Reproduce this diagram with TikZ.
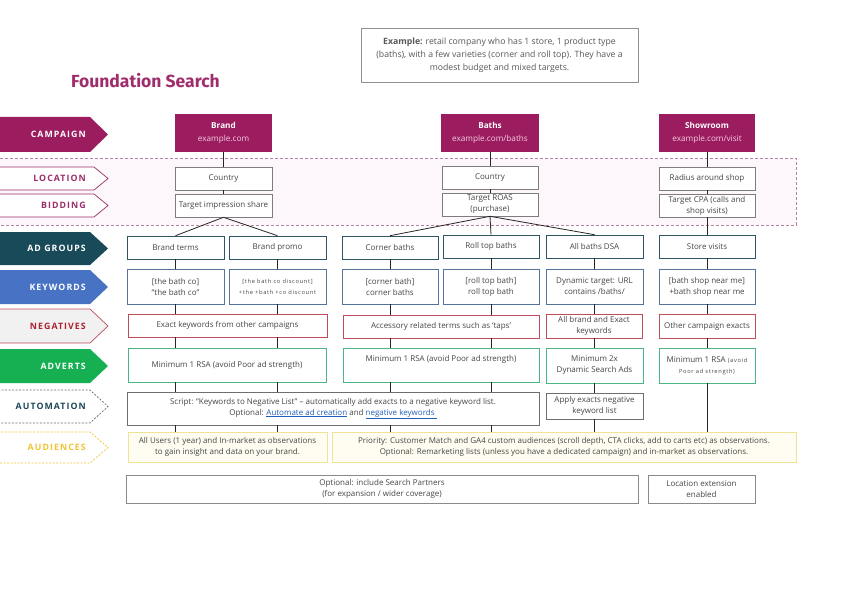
\documentclass[tikz,border=0pt]{standalone}
\usepackage{fontspec}
\setmainfont{Open Sans}
\newfontfamily\titlefont{Fira Sans}
\newfontfamily\lblfont[LetterSpace=12]{Open Sans}
\newfontfamily\spacedfont[LetterSpace=12]{Open Sans}
\definecolor{camp}{RGB}{155,28,95}
\definecolor{camplight}{RGB}{245,205,228}
\definecolor{titlec}{RGB}{160,45,108}
\definecolor{locc}{RGB}{155,45,105}
\definecolor{regionc}{RGB}{185,130,160}
\definecolor{regionfill}{RGB}{253,246,250}
\definecolor{agfill}{RGB}{24,74,90}
\definecolor{agc}{RGB}{45,85,100}
\definecolor{kwfill}{RGB}{72,115,196}
\definecolor{kwc}{RGB}{85,115,155}
\definecolor{negfill}{RGB}{241,241,241}
\definecolor{negdark}{RGB}{172,32,48}
\definecolor{negc}{RGB}{192,75,90}
\definecolor{advfill}{RGB}{22,176,82}
\definecolor{advc}{RGB}{75,182,132}
\definecolor{autotext}{RGB}{30,72,92}
\definecolor{autoc}{RGB}{110,110,110}
\definecolor{audtext}{RGB}{240,196,52}
\definecolor{audc}{RGB}{240,226,150}
\definecolor{audfill}{RGB}{255,253,241}
\definecolor{txt}{RGB}{70,70,70}
\definecolor{greyc}{RGB}{125,125,125}
\definecolor{link}{RGB}{35,95,185}
\tikzset{
  base/.style={line width=0.6pt, align=center, inner sep=1pt, text=txt,
    font=\fontsize{8}{11}\selectfont},
  small/.style={font=\fontsize{8}{11}\selectfont},
  campbox/.style={base, fill=camp, draw=none, text=white, font=\fontsize{8.2}{12.5}\selectfont},
  locbox/.style={base, draw=greyc, fill=white},
  agbox/.style={base, draw=agc, fill=white},
  kwbox/.style={base, draw=kwc, fill=white},
  negbox/.style={base, draw=negc, fill=white},
  advbox/.style={base, draw=advc, fill=white},
  autobox/.style={base, small, draw=autoc, fill=white},
  audbox/.style={base, small, draw=audc, fill=audfill},
  botbox/.style={base, small, draw=greyc!90, fill=white},
  exbox/.style={base, draw=greyc!85, fill=white, text=txt!90, font=\fontsize{8.7}{13.2}\selectfont},
  lbl/.style={inner sep=0pt, font=\lblfont\bfseries\fontsize{8.8}{10}\selectfont},
  tinyt/.style={font=\spacedfont\fontsize{5.7}{11}\selectfont},
  conn/.style={draw=black!85, line width=0.8pt},
}
\newcommand{\rbox}[7]{\node[#1, minimum width={(#5-#3)*1pt}, minimum height={(#6-#4)*1pt}] (#2) at ({(#3+#5)/2},{(#4+#6)/2}) {#7};}
% top, bottom, path style, text colour, name, text, depth
\newcommand{\chev}[7]{\path[#3] (-2,#1) -- ({108-#7},#1) -- (108,{(#1+#2)/2}) -- ({108-#7},#2) -- (-2,#2) -- cycle;
  \node[lbl, text=#4, anchor=east] (#5) at (86,{(#1+#2)/2}) {#6};}
\newcommand{\tinytxt}[1]{{\spacedfont\fontsize{5.7}{11}\selectfont #1}}
\begin{document}
\begin{tikzpicture}[x=1pt,y=-1pt]
\useasboundingbox (0,0) rectangle (842,596);
\fill[white] (0,0) rectangle (842,596);
% dashed region for location / bidding
\path[draw=regionc, fill=regionfill, line width=0.7pt, dash pattern=on 3pt off 2pt] (-2,158) rectangle (796,225);

% title and example
\node[anchor=west, inner sep=0pt, text=titlec, font=\titlefont\bfseries\fontsize{17.5}{20}\selectfont] (title) at (71,81) {Foundation Search};
\rbox{exbox}{example}{361}{28}{638}{82}{\textbf{Example:} retail company who has 1 store, 1 product type\\(baths), with a few varieties (corner and roll top). They have a\\modest budget and mixed targets.}

% left chevrons
\chev{117}{152}{fill=camp}{white}{lcamp}{CAMPAIGN}{18}
\chev{167}{190}{draw=locc, fill=white, line width=0.7pt}{locc}{lloc}{LOCATION}{14}
\chev{194}{217}{draw=locc, fill=white, line width=0.7pt}{locc}{lbid}{BIDDING}{14}
\chev{232}{265}{fill=agfill}{white}{lag}{AD GROUPS}{18}
\chev{270}{304}{fill=kwfill}{white}{lkw}{KEYWORDS}{18}
\chev{309}{343}{draw=negc, fill=negfill, line width=0.7pt}{negdark}{lneg}{NEGATIVES}{18}
\chev{349}{383}{fill=advfill}{white}{ladv}{ADVERTS}{18}
\chev{390}{423}{draw=autoc, fill=white, line width=0.7pt, dash pattern=on 2pt off 1.5pt}{autotext}{lauto}{AUTOMATION}{18}
\chev{432}{463}{draw=audtext, fill=white, line width=0.7pt, dash pattern=on 2pt off 1.5pt}{audtext}{laud}{AUDIENCES}{18}

% campaigns
\rbox{campbox}{campB}{175}{114}{272}{152}{\textbf{Brand}\\\textcolor{camplight}{example.com}}
\rbox{campbox}{campT}{441}{114}{539}{152}{\textbf{Baths}\\\textcolor{camplight}{example.com/baths}}
\rbox{campbox}{campS}{659}{114}{755}{152}{\textbf{Showroom}\\\textcolor{camplight}{example.com/visit}}

% location / bidding
\rbox{locbox}{locB}{175}{167}{272}{190}{Country}
\rbox{locbox}{bidB}{175}{194}{272}{217}{Target impression share}
\rbox{locbox}{locT}{442}{166}{538}{189}{Country}
\rbox{locbox}{bidT}{442}{193}{538}{216}{Target ROAS\\(purchase)}
\rbox{locbox}{locS}{659}{167}{755}{190}{Radius around shop}
\rbox{locbox}{bidS}{659}{194}{755}{217}{Target CPA (calls and\\shop visits)}

% ad groups
\rbox{agbox}{agB1}{127}{236}{224}{259}{Brand terms}
\rbox{agbox}{agB2}{229}{236}{326}{259}{Brand promo}
\rbox{agbox}{agC}{342}{236}{438}{259}{Corner baths}
\rbox{agbox}{agR}{443}{235}{539}{258}{Roll top baths}
\rbox{agbox}{agD}{546}{235}{643}{258}{All baths DSA}
\rbox{agbox}{agS}{659}{235}{755}{258}{Store visits}

% keywords
\rbox{kwbox}{kwB1}{127}{269}{224}{304}{[the bath co]\\“the bath co”}
\rbox{kwbox}{kwB2}{229}{269}{326}{304}{\tinytxt{[the bath co discount]}\\\tinytxt{+the +bath +co discount}}
\rbox{kwbox}{kwC}{342}{269}{438}{304}{[corner bath]\\corner baths}
\rbox{kwbox}{kwR}{443}{269}{539}{304}{[roll top bath]\\roll top bath}
\rbox{kwbox}{kwD}{546}{269}{643}{304}{Dynamic target: URL\\contains /baths/}
\rbox{kwbox}{kwS}{659}{269}{755}{304}{[bath shop near me]\\+bath shop near me}

% negatives
\rbox{negbox}{negB}{128}{314}{327}{337}{Exact keywords from other campaigns}
\rbox{negbox}{negT}{343}{315}{539}{338}{Accessory related terms such as ‘taps’}
\rbox{negbox}{negD}{546}{314}{642}{338}{All brand and Exact\\keywords}
\rbox{negbox}{negS}{659}{314}{755}{338}{Other campaign exacts}

% adverts
\rbox{advbox}{advB}{128}{348}{326}{382}{Minimum 1 RSA (avoid Poor ad strength)}
\rbox{advbox}{advT}{343}{348}{539}{382}{Minimum 1 RSA (avoid Poor ad strength)\\[3pt]}
\rbox{advbox}{advD}{546}{348}{643}{383}{Minimum 2x\\Dynamic Search Ads}
\rbox{advbox}{advS}{659}{348}{755}{383}{Minimum 1 RSA \tinytxt{(avoid}\\\tinytxt{Poor ad strength)}}

% automation
\rbox{autobox}{autoM}{127}{392}{539}{425}{Script: “Keywords to Negative List” – automatically add exacts to a negative keyword list.\\Optional: \textcolor{link}{\underline{Automate ad creation}} and \textcolor{link}{\underline{negative keywords\ }}}
\rbox{autobox}{autoD}{546}{393}{643}{419}{Apply exacts negative\\keyword list}

% audiences
\rbox{audbox}{audB}{128}{432}{327}{462}{All Users (1 year) and In-market as observations\\to gain insight and data on your brand.}
\rbox{audbox}{audR}{332}{432}{796}{462}{Priority: Customer Match and GA4 custom audiences (scroll depth, CTA clicks, add to carts etc) as observations.\\Optional: Remarketing lists (unless you have a dedicated campaign) and in-market as observations.}

% bottom
\rbox{botbox}{botL}{126}{475}{638}{503}{Optional: include Search Partners\\(for expansion / wider coverage)}
\rbox{botbox}{botR}{648}{475}{755}{503}{Location extension\\enabled}

% connectors: Brand
\draw[conn] (campB.south) -- (locB.north);
\draw[conn] (locB.south) -- (bidB.north);
\draw[conn] (bidB.south) -- (agB1.north);
\draw[conn] (bidB.south) -- (agB2.north);
\foreach \k in {kwB1,kwB2}{
  \draw[conn] (\k.south) -- (\k.south |- negB.north);
  \draw[conn] (\k.south |- negB.south) -- (\k.south |- advB.north);
  \draw[conn] (\k.south |- advB.south) -- (\k.south |- autoM.north);
  \draw[conn] (\k.south |- autoM.south) -- (\k.south |- audB.north);
}
\draw[conn] (agB1.south) -- (kwB1.north);
\draw[conn] (agB2.south) -- (kwB2.north);
% connectors: Baths
\draw[conn] (campT.south) -- (locT.north);
\draw[conn] (locT.south) -- (bidT.north);
\draw[conn] (bidT.south) -- (agC.north);
\draw[conn] (bidT.south) -- (agR.north);
\draw[conn] (bidT.south) -- (agD.north);
\draw[conn] (agC.south) -- (kwC.north);
\draw[conn] (agR.south) -- (kwR.north);
\draw[conn] (agD.south) -- (kwD.north);
\foreach \k in {kwC,kwR}{
  \draw[conn] (\k.south) -- (\k.south |- negT.north);
  \draw[conn] (\k.south |- negT.south) -- (\k.south |- advT.north);
  \draw[conn] (\k.south |- advT.south) -- (\k.south |- autoM.north);
  \draw[conn] (\k.south |- autoM.south) -- (\k.south |- audR.north);
}
\draw[conn] (kwD.south) -- (kwD.south |- negD.north);
\draw[conn] (negD.south) -- (negD.south |- advD.north);
\draw[conn] (advD.south) -- (advD.south |- autoD.north);
\draw[conn] (autoD.south) -- (autoD.south |- audR.north);
% connectors: Showroom
\draw[conn] (campS.south) -- (locS.north);
\draw[conn] (locS.south) -- (bidS.north);
\draw[conn] (bidS.south) -- (agS.north);
\draw[conn] (agS.south) -- (kwS.north);
\draw[conn] (kwS.south) -- (negS.north);
\draw[conn] (negS.south) -- (advS.north);
\draw[conn] (advS.south) -- (advS.south |- audR.north);
\end{tikzpicture}
\end{document}
